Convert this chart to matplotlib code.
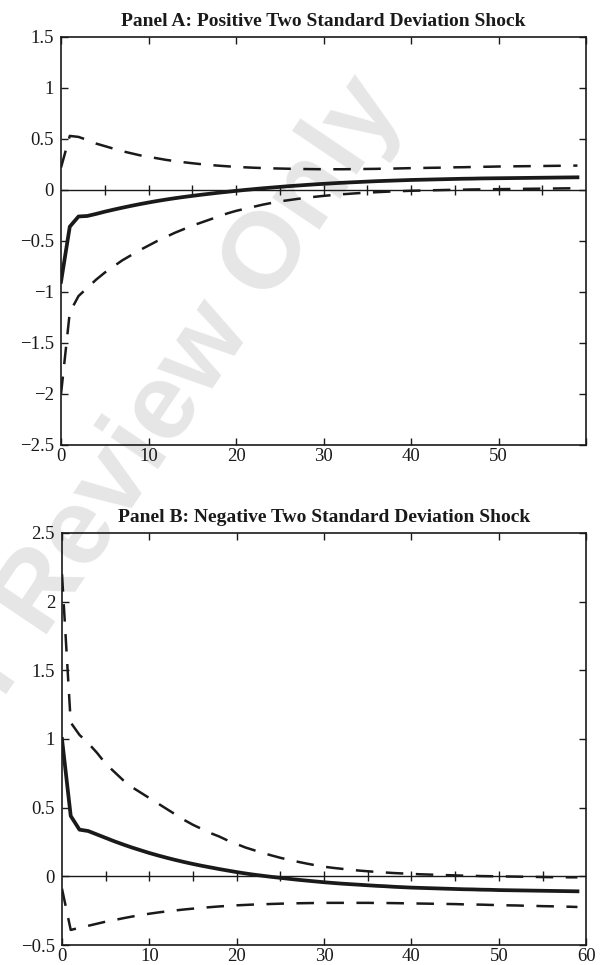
import numpy as np
import matplotlib.pyplot as plt

plt.rcParams['font.family'] = ['Liberation Serif', 'DejaVu Serif']

# horizon (periods)
t = np.arange(60)

# Panel A: positive two standard deviation shock
a_resp = [-0.90, -0.36, -0.26, -0.255, -0.235, -0.213, -0.193, -0.174, -0.156, -0.139,
          -0.123, -0.108, -0.094, -0.081, -0.069, -0.058, -0.047, -0.037, -0.027, -0.018,
          -0.009, 0.0, 0.008, 0.016, 0.023, 0.030, 0.037, 0.043, 0.049, 0.055,
          0.060, 0.065, 0.070, 0.074, 0.078, 0.082, 0.086, 0.089, 0.092, 0.095,
          0.098, 0.100, 0.102, 0.104, 0.106, 0.108, 0.110, 0.111, 0.113, 0.114,
          0.115, 0.116, 0.117, 0.118, 0.119, 0.120, 0.121, 0.122, 0.123, 0.124]
a_upper = [0.22, 0.53, 0.52, 0.49, 0.455, 0.43, 0.405, 0.38, 0.36, 0.34,
           0.325, 0.31, 0.295, 0.283, 0.272, 0.262, 0.253, 0.245, 0.238, 0.232,
           0.226, 0.222, 0.218, 0.215, 0.212, 0.21, 0.208, 0.206, 0.205, 0.204,
           0.203, 0.203, 0.203, 0.204, 0.205, 0.206, 0.207, 0.209, 0.21, 0.212,
           0.214, 0.215, 0.217, 0.218, 0.220, 0.222, 0.223, 0.225, 0.227, 0.228,
           0.23, 0.231, 0.232, 0.233, 0.234, 0.235, 0.236, 0.237, 0.238, 0.239]
a_lower = [-2.0, -1.2, -1.04, -0.96, -0.88, -0.81, -0.75, -0.69, -0.64, -0.59,
           -0.545, -0.5, -0.46, -0.42, -0.385, -0.35, -0.32, -0.29, -0.26, -0.23,
           -0.205, -0.185, -0.165, -0.145, -0.128, -0.112, -0.1, -0.088, -0.077, -0.067,
           -0.058, -0.05, -0.043, -0.037, -0.031, -0.026, -0.022, -0.018, -0.014, -0.011,
           -0.008, -0.006, -0.004, -0.002, 0.0, 0.002, 0.003, 0.005, 0.006, 0.007,
           0.008, 0.009, 0.010, 0.011, 0.012, 0.013, 0.014, 0.015, 0.016, 0.017]

# Panel B: negative two standard deviation shock
b_resp = [1.0, 0.44, 0.34, 0.33, 0.305, 0.28, 0.255, 0.232, 0.21, 0.19,
          0.17, 0.152, 0.135, 0.119, 0.104, 0.09, 0.077, 0.065, 0.053, 0.042,
          0.031, 0.021, 0.012, 0.004, -0.004, -0.011, -0.018, -0.025, -0.031, -0.037,
          -0.043, -0.048, -0.053, -0.057, -0.061, -0.065, -0.069, -0.072, -0.076, -0.079,
          -0.082, -0.084, -0.086, -0.088, -0.09, -0.092, -0.094, -0.095, -0.097, -0.098,
          -0.10, -0.101, -0.102, -0.103, -0.104, -0.105, -0.106, -0.107, -0.108, -0.109]
b_upper = [2.2, 1.12, 1.03, 0.97, 0.9, 0.82, 0.76, 0.70, 0.65, 0.61,
           0.57, 0.53, 0.49, 0.45, 0.41, 0.375, 0.345, 0.315, 0.29, 0.26,
           0.235, 0.21, 0.19, 0.17, 0.152, 0.135, 0.12, 0.106, 0.093, 0.081,
           0.07, 0.062, 0.055, 0.048, 0.042, 0.037, 0.032, 0.028, 0.024, 0.021,
           0.018, 0.015, 0.013, 0.011, 0.009, 0.007, 0.005, 0.004, 0.002, 0.001,
           0.0, -0.001, -0.002, -0.003, -0.004, -0.005, -0.006, -0.006, -0.007, -0.007]
b_lower = [-0.09, -0.39, -0.375, -0.36, -0.345, -0.33, -0.318, -0.305, -0.293, -0.282,
           -0.272, -0.263, -0.255, -0.248, -0.241, -0.235, -0.229, -0.224, -0.219, -0.215,
           -0.211, -0.208, -0.205, -0.203, -0.201, -0.199, -0.197, -0.196, -0.195, -0.194,
           -0.193, -0.193, -0.193, -0.193, -0.193, -0.193, -0.194, -0.194, -0.195, -0.196,
           -0.197, -0.198, -0.199, -0.2, -0.201, -0.202, -0.204, -0.205, -0.206, -0.208,
           -0.209, -0.211, -0.212, -0.214, -0.215, -0.217, -0.218, -0.22, -0.221, -0.223]

titles = ['Panel A: Positive Two Standard Deviation Shock',
          'Panel B: Negative Two Standard Deviation Shock']
ylims = [(-2.5, 1.5), (-0.5, 2.5)]
xticks = np.arange(0, 61, 10)

fig = plt.figure(figsize=(6, 9.65), dpi=100)
axA = fig.add_axes([0.1017, 0.5389, 0.8753, 0.4228])
axB = fig.add_axes([0.1033, 0.0207, 0.8737, 0.4270])

# watermark
fig.text(0.238, 0.542, 'For Review Only', fontsize=78, fontweight='bold',
         family='Liberation Sans', color='#e6e6e6', rotation=56,
         ha='center', va='center', rotation_mode='anchor', zorder=-1)

ink = '#1a1a1a'
series = [(a_resp, a_upper, a_lower), (b_resp, b_upper, b_lower)]
for k, ax in enumerate([axA, axB]):
    resp, up, lo = series[k]
    ax.set_facecolor('none')
    ax.axhline(0, color=ink, lw=1.0, zorder=1)
    ax.plot(np.arange(5, 60, 5), np.zeros(11), ls='none', marker='|',
            ms=7, mew=1.0, color=ink, zorder=1)
    ax.plot(t, up, color=ink, lw=1.8, dashes=(7, 5), zorder=2)
    ax.plot(t, lo, color=ink, lw=1.8, dashes=(7, 5), zorder=2)
    ax.plot(t, resp, color=ink, lw=2.7, zorder=3)
    ax.set_xlim(0, 60)
    ax.set_ylim(*ylims[k])
    ax.set_xticks(xticks)
    if k == 0:
        ax.set_xticklabels([str(v) for v in xticks[:-1]] + [''])
    ax.set_yticks(np.arange(ylims[k][0], ylims[k][1] + 0.01, 0.5))
    ax.yaxis.set_major_formatter(plt.FuncFormatter(lambda v, p: ('%g' % v).replace('-', '\u2212')))
    ax.tick_params(direction='in', length=5, width=1.0, top=True, right=True,
                   labelsize=13.5, color=ink, labelcolor=ink)
    ax.tick_params(axis='x', pad=2)
    ax.tick_params(axis='y', pad=5)
    for s in ax.spines.values():
        s.set_linewidth(1.2)
        s.set_color(ink)
    ax.set_title(titles[k], fontsize=14, fontweight='bold', pad=8, color=ink)

fig.savefig('out.png', dpi=100)
